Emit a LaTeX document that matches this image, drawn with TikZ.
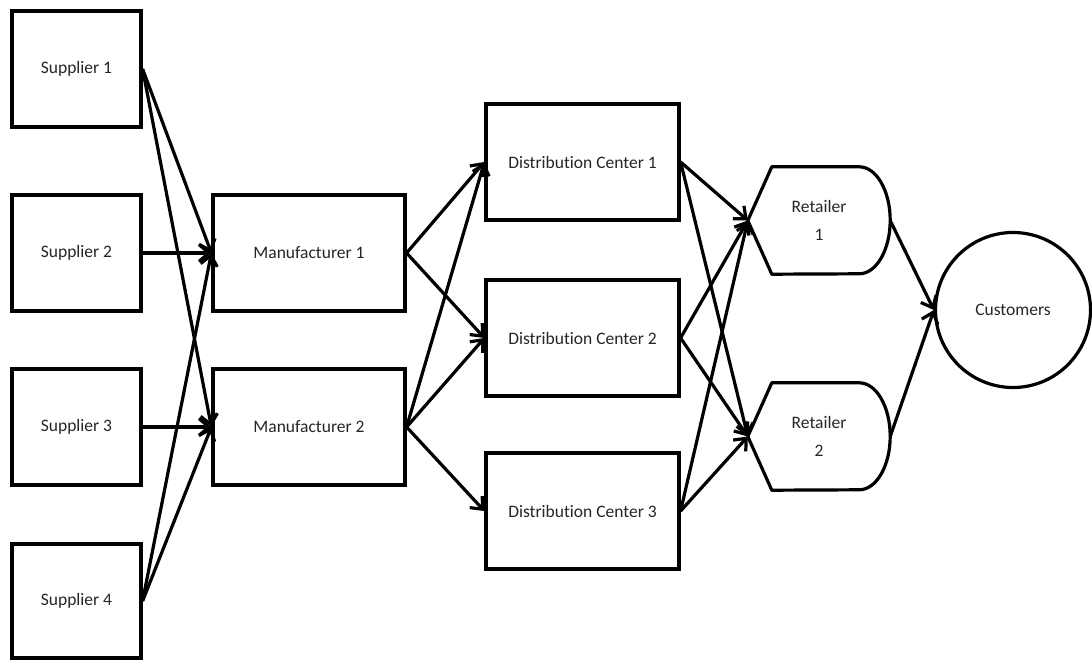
\documentclass[tikz,border=0pt]{standalone}
\usepackage{fontspec}
\setmainfont{Carlito}[Ligatures={NoCommon}]
\usetikzlibrary{arrows.meta}
\definecolor{txt}{HTML}{262626}
\tikzset{
  label font/.style={text=txt, font=\fontsize{17.5}{28}\selectfont},
  box/.style={draw=black, line width=3.2pt, fill=white, minimum width=#1, label font, align=center},
  box/.default=129pt,
  hidden/.style={draw=none, minimum width=142pt, minimum height=107pt, label font, align=center},
  flow/.style={line width=3.2pt, -{Straight Barb[length=10pt,width=17pt,line width=3.2pt]}},
  outline/.style={line width=3.2pt, line join=round}
}
\begin{document}
\begin{tikzpicture}[x=1pt,y=-1pt]
\useasboundingbox (0,0) rectangle (1092,660);

% suppliers
\node[box, minimum height=116pt] (s1) at (76.5,69) {Supplier 1};
\node[box, minimum height=116pt] (s2) at (76.5,253) {Supplier 2};
\node[box, minimum height=116pt] (s3) at (76.5,427) {Supplier 3};
\node[box, minimum height=114pt] (s4) at (76.5,601) {Supplier 4};

% manufacturers
\node[box=192pt, minimum height=116pt] (m1) at (309,253) {Manufacturer 1};
\node[box=192pt, minimum height=116pt] (m2) at (309,427) {Manufacturer 2};

% distribution centers
\node[box=193pt, minimum height=116pt] (d1) at (582.5,162) {Distribution Center 1};
\node[box=193pt, minimum height=116pt] (d2) at (582.5,338) {Distribution Center 2};
\node[box=193pt, minimum height=116pt] (d3) at (582.5,511) {Distribution Center 3};

% retailers: pointed left side, rounded right side
\node[hidden] (r1) at (819,220.5) {Retailer\\1};
\node[hidden] (r2) at (819,436.5) {Retailer\\2};
\foreach \r in {r1,r2}{
  \draw[outline] (\r.west) -- ([xshift=24pt]\r.north west) -- ([xshift=-31pt]\r.north east)
    arc[start angle=90, end angle=-90, x radius=31pt, y radius=53.5pt]
    -- ([xshift=24pt]\r.south west) -- cycle;
}

% customers
\node[draw, line width=3.2pt, circle, minimum size=155pt, label font] (c) at (1013,310) {Customers};

% supplier -> manufacturer
\draw[flow] (s1.east) -- (m1.west);
\draw[flow] (s1.east) -- (m2.west);
\draw[flow] (s2.east) -- (m1.west);
\draw[flow] (s3.east) -- (m2.west);
\draw[flow] (s4.east) -- (m1.west);
\draw[flow] (s4.east) -- (m2.west);

% manufacturer -> distribution
\draw[flow] (m1.east) -- (d1.west);
\draw[flow] (m1.east) -- (d2.west);
\draw[flow] (m2.east) -- (d1.west);
\draw[flow] (m2.east) -- (d2.west);
\draw[flow] (m2.east) -- (d3.west);

% distribution -> retailer
\draw[flow] (d1.east) -- (r1.west);
\draw[flow] (d1.east) -- (r2.west);
\draw[flow] (d2.east) -- (r1.west);
\draw[flow] (d2.east) -- (r2.west);
\draw[flow] (d3.east) -- (r1.west);
\draw[flow] (d3.east) -- (r2.west);

% retailer -> customers
\draw[flow] (r1.east) -- (c.west);
\draw[flow] (r2.east) -- (c.west);
\end{tikzpicture}
\end{document}
